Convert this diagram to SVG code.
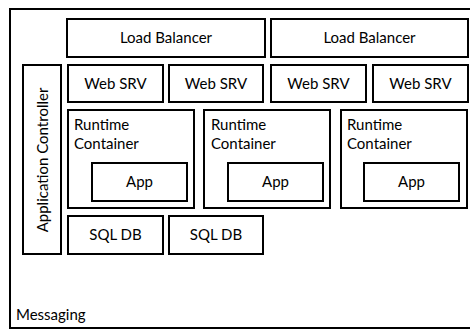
<svg xmlns="http://www.w3.org/2000/svg" width="470" height="330" viewBox="0 0 470 330">
  <style>
    .box { fill: #fff; stroke: #000; stroke-width: 2; }
    .frame { fill: none; stroke: #000; stroke-width: 2; }
    text { font-family: Lato, "Open Sans", "Liberation Sans", sans-serif; font-size: 15px; fill: #000; }
    .c { text-anchor: middle; }
  </style>
  <rect width="470" height="330" fill="#fff"/>

  <!-- messaging bus: open on the right -->
  <g id="messaging">
    <path class="frame" d="M472 9 H10 V328 H472"/>
    <text x="16" y="320">Messaging</text>
  </g>

  <g id="app-controller">
    <rect class="box" x="23" y="65" width="38" height="189"/>
    <text class="c" transform="translate(48 160) rotate(-90)">Application Controller</text>
  </g>

  <g id="lb-1">
    <rect class="box" x="67" y="19" width="198" height="38"/>
    <text class="c" x="166" y="43">Load Balancer</text>
  </g>
  <g id="lb-2">
    <rect class="box" x="271" y="19" width="197" height="38"/>
    <text class="c" x="369.5" y="43">Load Balancer</text>
  </g>

  <g id="web-1">
    <rect class="box" x="68" y="65" width="95" height="37"/>
    <text class="c" x="115.5" y="89">Web SRV</text>
  </g>
  <g id="web-2">
    <rect class="box" x="169" y="65" width="94" height="37"/>
    <text class="c" x="216" y="89">Web SRV</text>
  </g>
  <g id="web-3">
    <rect class="box" x="271" y="65" width="95" height="37"/>
    <text class="c" x="318.5" y="89">Web SRV</text>
  </g>
  <g id="web-4">
    <rect class="box" x="373" y="65" width="95" height="37"/>
    <text class="c" x="420.5" y="89">Web SRV</text>
  </g>

  <g id="runtime-1">
    <rect class="box" x="68" y="110" width="126" height="98"/>
    <text x="74" y="130">Runtime</text>
    <text x="74" y="149">Container</text>
  </g>
  <g id="app-1">
    <rect class="box" x="92" y="163" width="95" height="38"/>
    <text class="c" x="139.5" y="187">App</text>
  </g>

  <g id="runtime-2">
    <rect class="box" x="204" y="110" width="126" height="98"/>
    <text x="211" y="130">Runtime</text>
    <text x="211" y="149">Container</text>
  </g>
  <g id="app-2">
    <rect class="box" x="228" y="163" width="95" height="38"/>
    <text class="c" x="275.5" y="187">App</text>
  </g>

  <g id="runtime-3">
    <rect class="box" x="341" y="110" width="126" height="98"/>
    <text x="347" y="130">Runtime</text>
    <text x="347" y="149">Container</text>
  </g>
  <g id="app-3">
    <rect class="box" x="364" y="163" width="95" height="38"/>
    <text class="c" x="411.5" y="187">App</text>
  </g>

  <g id="sql-1">
    <rect class="box" x="68" y="216" width="95" height="38"/>
    <text class="c" x="115.5" y="240">SQL DB</text>
  </g>
  <g id="sql-2">
    <rect class="box" x="169" y="216" width="94" height="38"/>
    <text class="c" x="216" y="240">SQL DB</text>
  </g>

  <g id="connectors"/>
</svg>
